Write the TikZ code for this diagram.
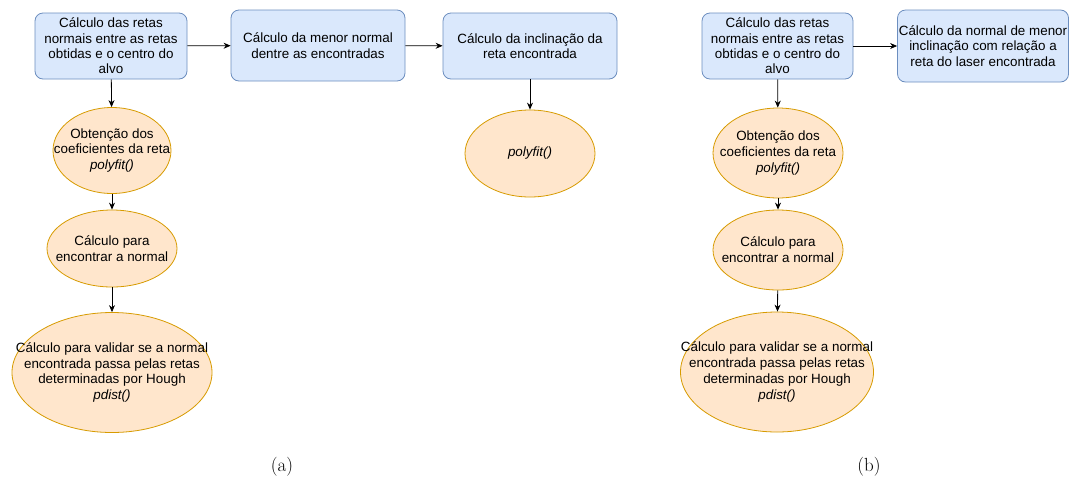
\documentclass[tikz,border=0pt]{standalone}
\usepackage{fontspec}
\setmainfont{Liberation Sans}
\newfontfamily\capfont{Latin Modern Roman}
\usetikzlibrary{shapes.geometric,arrows.meta}
\definecolor{boxfill}{HTML}{DAE8FC}
\definecolor{boxline}{HTML}{6C8EBF}
\definecolor{ovalfill}{HTML}{FFE6CC}
\definecolor{ovalline}{HTML}{D79B00}
\tikzset{
  stepbox/.style={draw=boxline, fill=boxfill, rounded corners=8pt, line width=0.8pt,
    align=center, inner sep=0pt, font=\fontsize{13.4}{15.3}\selectfont},
  oval/.style={draw=ovalline, fill=ovalfill, ellipse, line width=0.8pt, inner sep=0pt},
  ovaltext/.style={align=center, inner sep=0pt, font=\fontsize{13.4}{15.8}\selectfont},
  flow/.style={-{Stealth[length=7pt,width=6pt]}, line width=0.8pt},
  caption/.style={font=\capfont\fontsize{19}{22}\selectfont}
}
\begin{document}
\begin{tikzpicture}[x=1pt,y=-1pt]
\useasboundingbox (0,0) rectangle (1070,483);

% ---- (a) ----
\node[stepbox, minimum width=152pt, minimum height=66pt] (a1) at (111,46)
  {Cálculo das retas\\normais entre as retas\\obtidas e o centro do\\alvo};
\node[stepbox, minimum width=174pt, minimum height=71pt] (a2) at (318,45.5)
  {Cálculo da menor normal\\dentre as encontradas};
\node[stepbox, minimum width=174pt, minimum height=66pt] (a3) at (530,46)
  {Cálculo da inclinação da\\reta encontrada};

\node[oval, minimum width=118pt, minimum height=86pt] (e1) at (112,150.5) {};
\node[ovaltext] at (e1) {Obtenção dos\\coeficientes da reta\\\textit{polyfit()}};
\node[oval, minimum width=130pt, minimum height=77pt] (e2) at (112,248.5) {};
\node[ovaltext] at (e2) {Cálculo para\\encontrar a normal};
\node[oval, minimum width=200pt, minimum height=120pt] (e3) at (112,372.5) {};
\node[ovaltext] at (e3) {Cálculo para validar se a normal\\encontrada passa pelas retas\\determinadas por Hough\\\textit{pdist()}};
\node[oval, minimum width=130pt, minimum height=87pt] (e4) at (530,153.5) {};
\node[ovaltext] at (e4) {\textit{polyfit()}};

\draw[flow] (a1) -- (a2);
\draw[flow] (a2) -- (a3);
\draw[flow] (a1) -- (e1);
\draw[flow] (e1) -- (e2);
\draw[flow] (e2) -- (e3);
\draw[flow] (a3) -- (e4);

% ---- (b) ----
\node[stepbox, minimum width=151pt, minimum height=66pt] (b1) at (777.5,46)
  {Cálculo das retas\\normais entre as retas\\obtidas e o centro do\\alvo};
\node[stepbox, minimum width=171pt, minimum height=72pt] (b2) at (983,46)
  {Cálculo da normal de menor\\inclinação com relação a\\reta do laser encontrada};

\node[oval, minimum width=130pt, minimum height=90pt] (f1) at (778,153) {};
\node[ovaltext] at (f1) {Obtenção dos\\coeficientes da reta\\\textit{polyfit()}};
\node[oval, minimum width=130pt, minimum height=80pt] (f2) at (778,250) {};
\node[ovaltext] at (f2) {Cálculo para\\encontrar a normal};
\node[oval, minimum width=193pt, minimum height=120pt] (f3) at (777,372) {};
\node[ovaltext] at (f3) {Cálculo para validar se a normal\\encontrada passa pelas retas\\determinadas por Hough\\\textit{pdist()}};

\draw[flow] (b1) -- (b2);
\draw[flow] (b1) -- (f1);
\draw[flow] (f1) -- (f2);
\draw[flow] (f2) -- (f3);

% ---- captions ----
\node[caption] (capa) at (282,467) {(a)};
\node[caption] (capb) at (869,467) {(b)};
\end{tikzpicture}
\end{document}
